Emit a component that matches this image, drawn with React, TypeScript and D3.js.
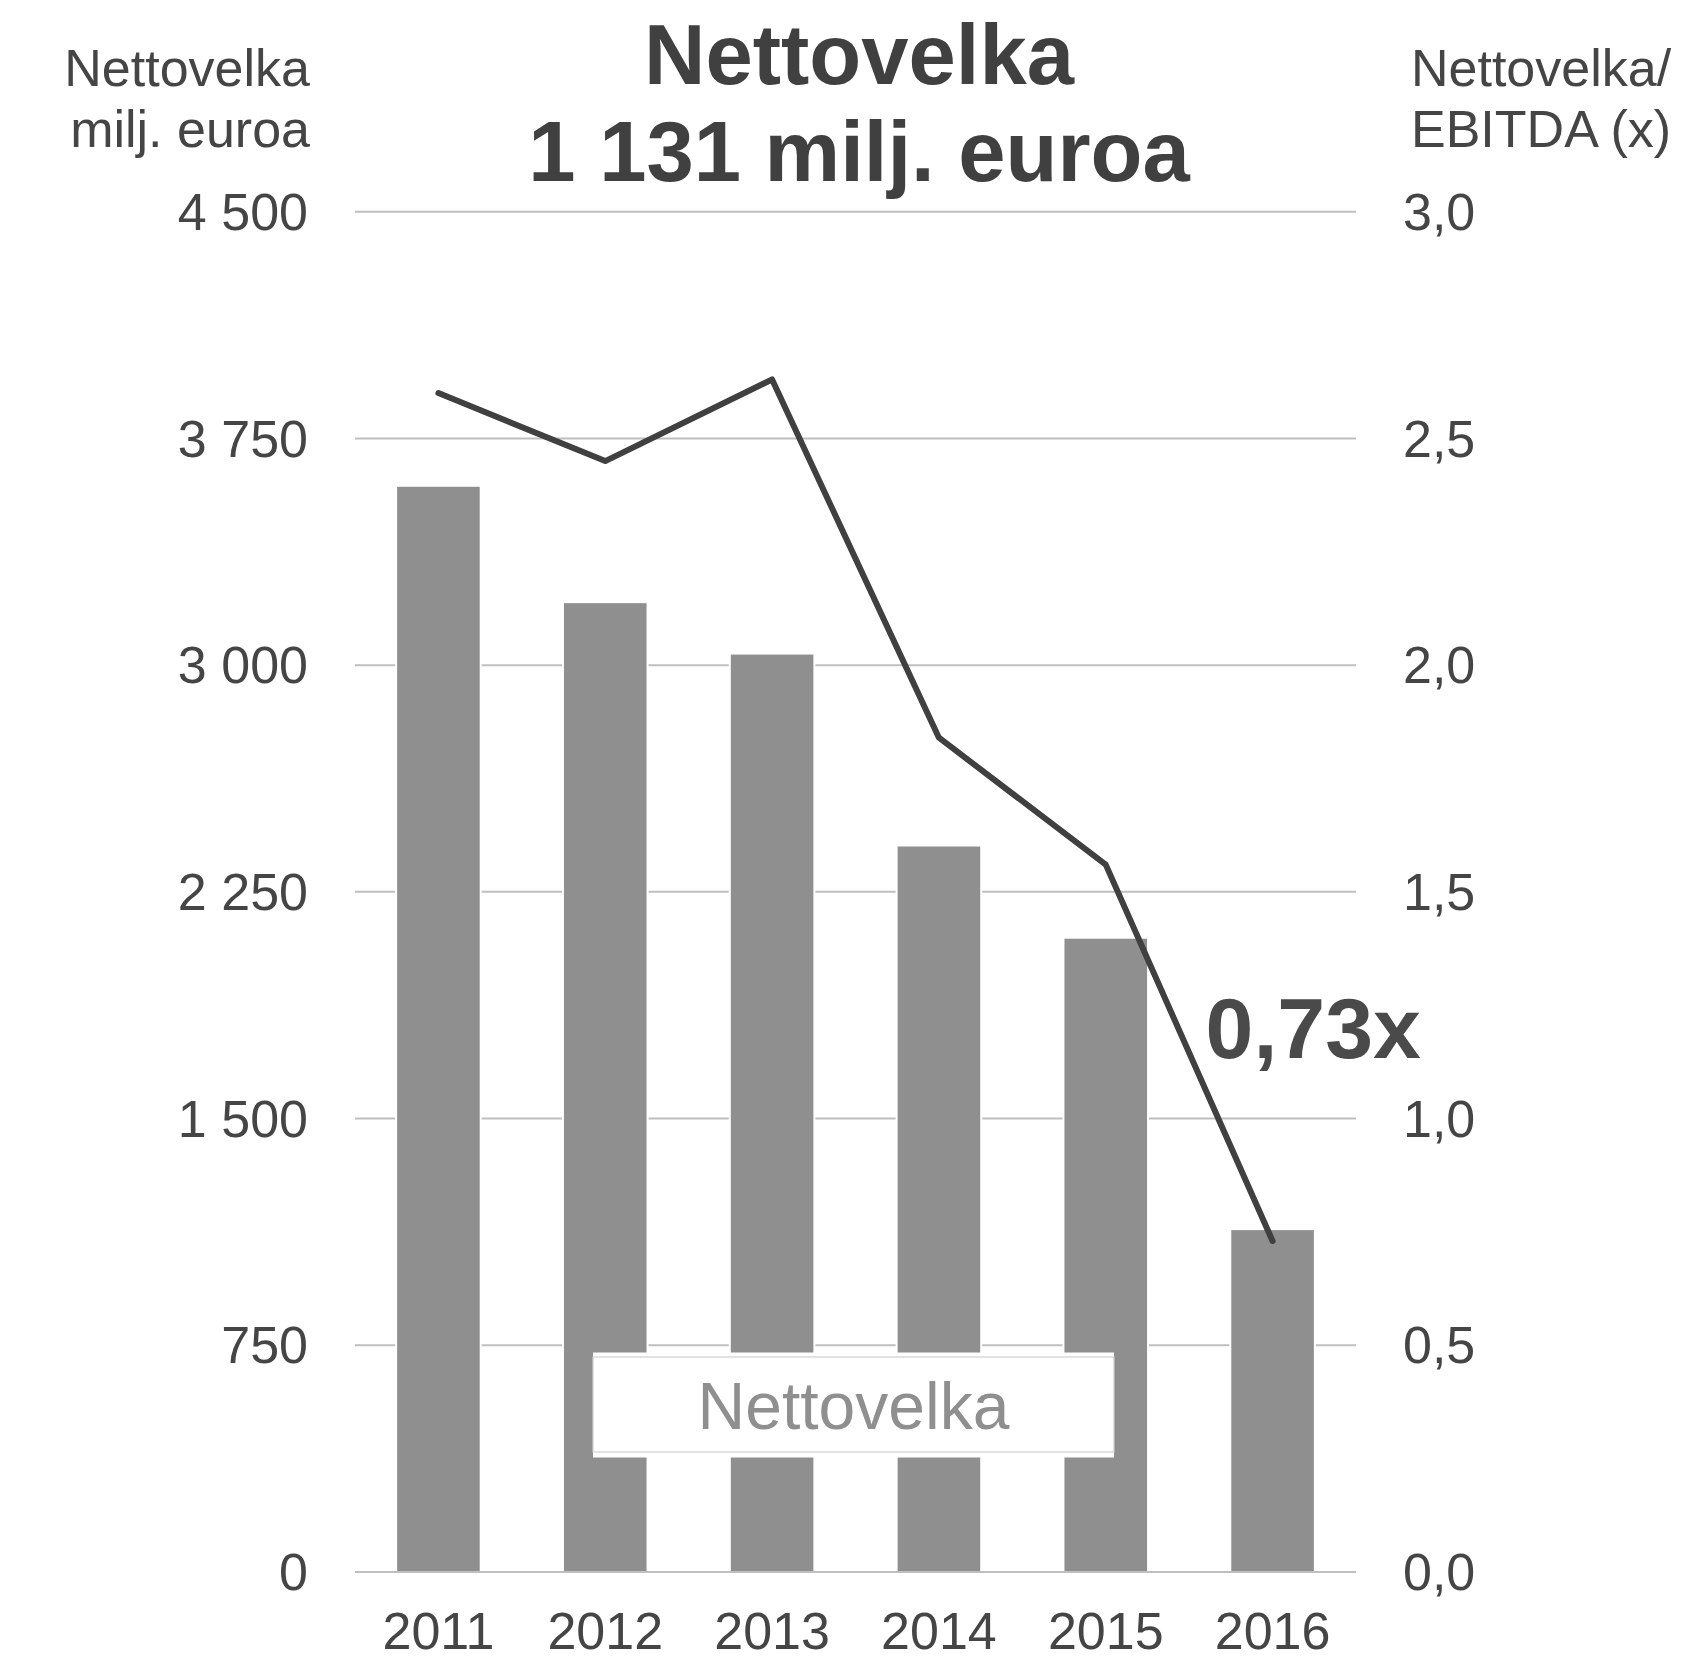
import * as d3 from "d3"

const years = ["2011", "2012", "2013", "2014", "2015", "2016"]
// Nettovelka, milj. euroa
const netDebt = [3590, 3205, 3035, 2400, 2095, 1131]
// Nettovelka / EBITDA (x)
const debtToEbitda = [2.6, 2.45, 2.63, 1.84, 1.56, 0.73]
const leftTicks = [0, 750, 1500, 2250, 3000, 3750, 4500]
const rightTicks = [0, 0.5, 1, 1.5, 2, 2.5, 3]

const W = 1706
const H = 1661
const PLOT = { left: 355, right: 1356, top: 211.7, bottom: 1572 }
const FONT = "'Liberation Sans', Arial, sans-serif"
const TEXT = "#454545"
const BAR = "#8f8f8f"
const GRID = "#bfbfbf"

const fi = d3.formatLocale({ decimal: ",", thousands: "\u00a0", grouping: [3], currency: ["", "€"] })
const fmtLeft = fi.format(",d")
const fmtRight = fi.format(".1f")

export default function App() {
  const x = d3.scaleBand<string>().domain(years).range([PLOT.left, PLOT.right]).paddingInner(0.505).paddingOuter(0.2525)
  const yL = d3.scaleLinear().domain([0, 4500]).range([PLOT.bottom, PLOT.top])
  const yR = d3.scaleLinear().domain([0, 3]).range([PLOT.bottom, PLOT.top])
  const cx = (y: string) => (x(y) ?? 0) + x.bandwidth() / 2

  const line = d3
    .line<number>()
    .x((_, i) => cx(years[i]))
    .y((d) => yR(d))

  const last = debtToEbitda.length - 1

  return (
    <svg
      width={W}
      height={H}
      style={{ position: "absolute", left: 0, top: 0, background: "#fff" }}
      fontFamily={FONT}
    >
      {/* gridlines */}
      {leftTicks.map((t) => (
        <line key={t} x1={PLOT.left} x2={PLOT.right} y1={yL(t)} y2={yL(t)} stroke={GRID} strokeWidth={2} />
      ))}

      {/* bars */}
      {netDebt.map((v, i) => (
        <rect
          key={years[i]}
          x={x(years[i])}
          y={yL(v)}
          width={x.bandwidth()}
          height={yL(0) - yL(v)}
          fill={BAR}
          stroke="#fff"
          strokeWidth={4}
          style={{ paintOrder: "stroke" }}
        />
      ))}
      <line x1={PLOT.left} x2={PLOT.right} y1={yL(0)} y2={yL(0)} stroke={GRID} strokeWidth={2} />

      {/* legend */}
      <rect x={593} y={1352.5} width={521} height={105} fill="#fff" />
      <rect x={593} y={1357} width={521} height={95} fill="#fff" stroke="#cfcfcf" strokeWidth={1.2} />
      <text x={853.5} y={1429} textAnchor="middle" fontSize={66} fill="#8f8f8f">
        Nettovelka
      </text>

      {/* ratio line */}
      <path
        d={line(debtToEbitda) ?? ""}
        fill="none"
        stroke="#404040"
        strokeWidth={6}
        strokeLinejoin="round"
        strokeLinecap="round"
      />
      <text x={cx(years[last]) - 67} y={1058} fontSize={86} fontWeight="bold" fill="#4a4a4a">
        {fi.format(".2f")(debtToEbitda[last])}x
      </text>

      {/* left axis */}
      {leftTicks.map((t) => (
        <text key={t} x={308} y={yL(t)} dy="0.35em" textAnchor="end" fontSize={52} fill={TEXT}>
          {fmtLeft(t)}
        </text>
      ))}
      {/* right axis */}
      {rightTicks.map((t) => (
        <text key={t} x={1403} y={yR(t)} dy="0.35em" textAnchor="start" fontSize={52} fill={TEXT}>
          {fmtRight(t)}
        </text>
      ))}
      {/* x axis */}
      {years.map((y) => (
        <text key={y} x={cx(y)} y={1649} textAnchor="middle" fontSize={52} fill={TEXT}>
          {y}
        </text>
      ))}

      {/* axis titles */}
      <text x={310} y={86} textAnchor="end" fontSize={52} fill={TEXT}>
        Nettovelka
      </text>
      <text x={310} y={147} textAnchor="end" fontSize={52} fill={TEXT}>
        milj. euroa
      </text>
      <text x={1411} y={86} fontSize={52} fill={TEXT}>
        Nettovelka/
      </text>
      <text x={1411} y={147} fontSize={52} fill={TEXT}>
        EBITDA (x)
      </text>

      {/* title */}
      <text x={859} y={84} textAnchor="middle" fontSize={85} fontWeight="bold" fill="#404040">
        Nettovelka
      </text>
      <text x={859} y={181} textAnchor="middle" fontSize={85} fontWeight="bold" fill="#404040">
        1 131 milj. euroa
      </text>
    </svg>
  )
}
